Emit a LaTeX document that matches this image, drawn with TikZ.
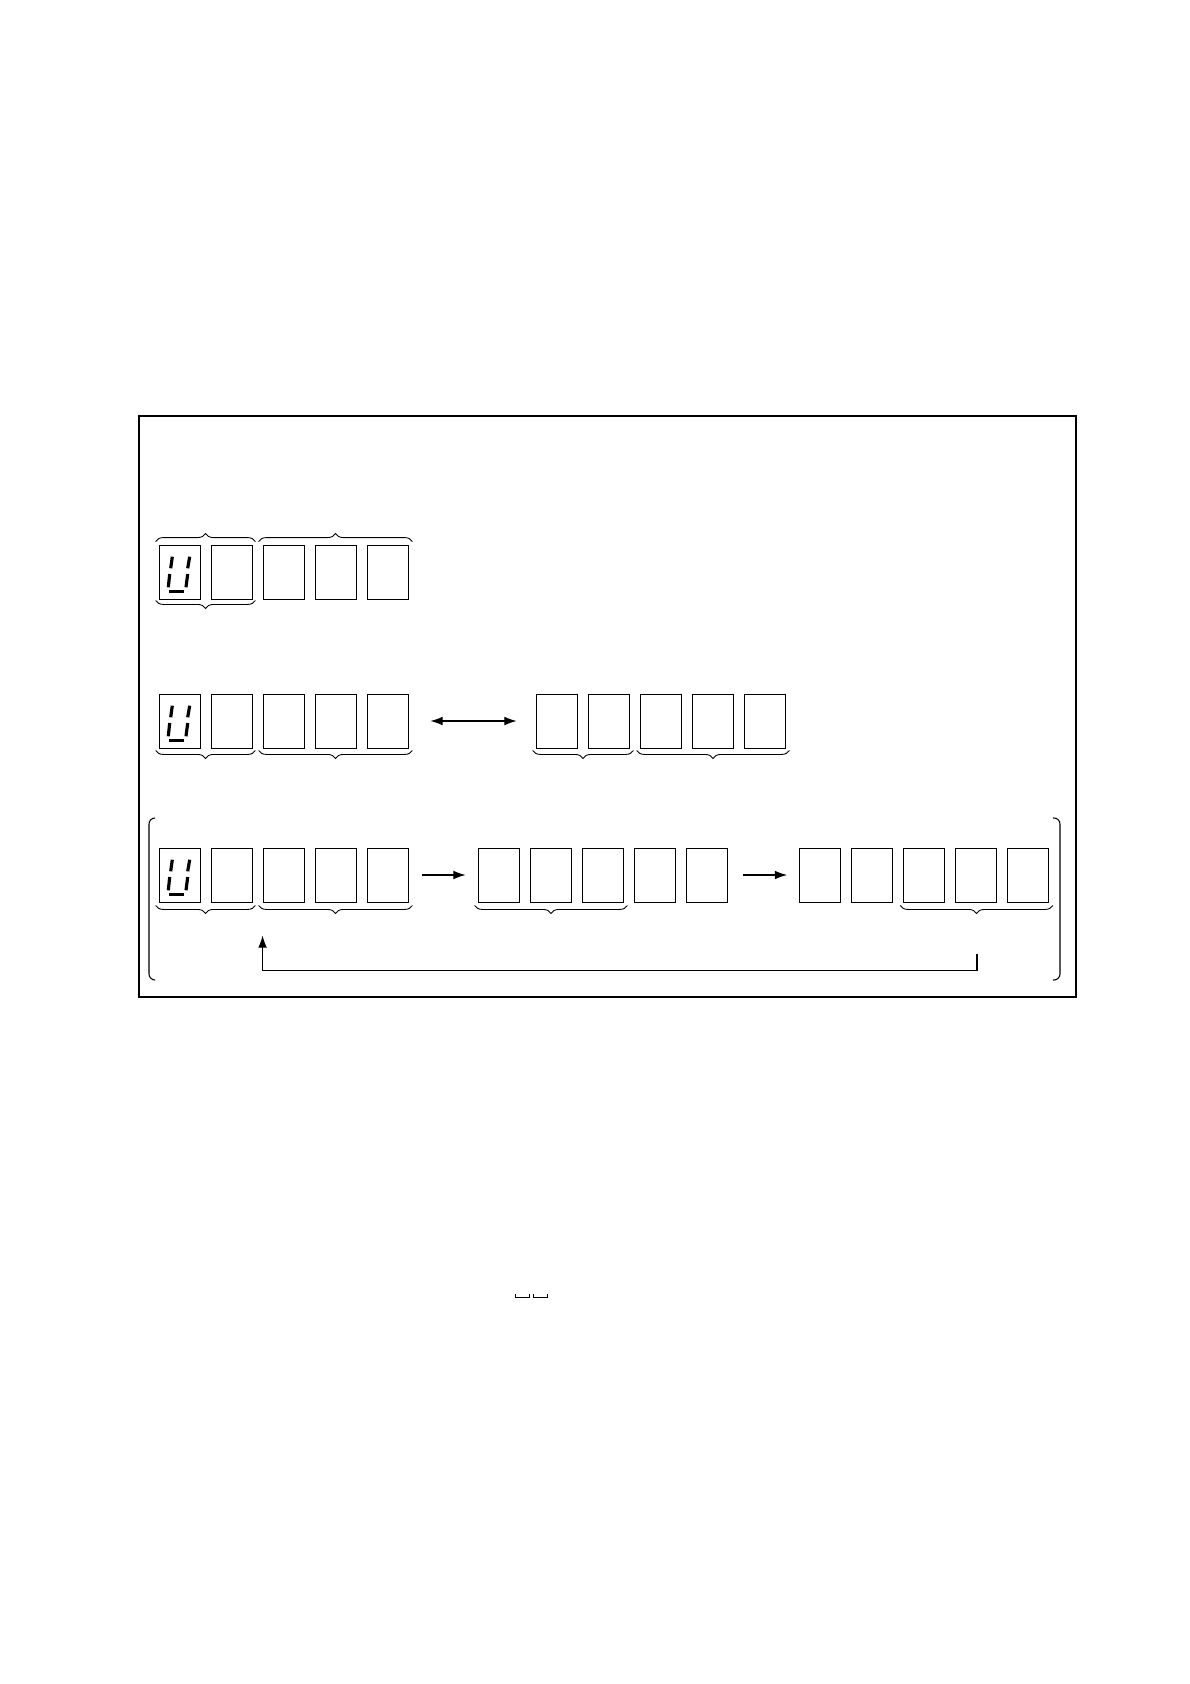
\documentclass[tikz,border=0pt]{standalone}
\usepackage{tikz}
\usetikzlibrary{calc}
\usetikzlibrary{arrows.meta,positioning,decorations.pathreplacing}

\tikzset{
	digit/.style={draw,line width=0.5pt,inner sep=0pt,minimum width=0.82cm,minimum height=1.08cm},
	brc/.style={decorate,decoration={brace,amplitude=0.16cm},line width=0.5pt},
	brcm/.style={decorate,decoration={brace,mirror,amplitude=0.16cm},line width=0.5pt},
	arr/.style={line width=0.6pt,-{Latex[length=7pt,width=5pt]}},
	darr/.style={line width=0.6pt,{Latex[length=7pt,width=5pt]}-{Latex[length=7pt,width=5pt]}},
	seg/.style={line width=1.8pt}
}

% the letter U of a seven segment display, drawn in box #1
\newcommand{\segU}[1]{
	\begin{scope}[shift={(#1.center)}]
		\draw[seg] (-7.2,-15.3)--(-8.8,-3.7);
		\draw[seg] (-9.8,2)--(-11.2,15.3);
		\draw[seg] (-10.5,19.7)--(4.8,19.7);
		\draw[seg] (10.2,-15.3)--(8.2,-3.7);
		\draw[seg] (8.2,2)--(6.5,15.3);
	\end{scope}
}

\begin{document}
\begin{tikzpicture}[x=0.02cm,y=-0.02cm]
	\useasboundingbox (0,0) rectangle (1190,1684);
	\draw[line width=0.8pt] (139,416) rectangle (1076,997);

	% first row
	\node[digit] (r1a) at (179.5,572) {};
	\node[digit] (r1b) at (231.5,572) {};
	\node[digit] (r1c) at (283.5,572) {};
	\node[digit] (r1d) at (335.5,572) {};
	\node[digit] (r1e) at (387.5,572) {};
	\segU{r1a}
	\draw[brc] ($(r1a.north west)+(-3,-3)$) -- ($(r1b.north east)+(3,-3)$);
	\draw[brc] ($(r1c.north west)+(-4,-3)$) -- ($(r1e.north east)+(4,-3)$);
	\draw[brcm] ($(r1a.south west)+(-3,1)$) -- ($(r1b.south east)+(3,1)$);

	% second row
	\node[digit] (r2a) at (179.5,721) {};
	\node[digit] (r2b) at (231.5,721) {};
	\node[digit] (r2c) at (283.5,721) {};
	\node[digit] (r2d) at (335.5,721) {};
	\node[digit] (r2e) at (387.5,721) {};
	\node[digit] (r2f) at (556.5,721) {};
	\node[digit] (r2g) at (608.5,721) {};
	\node[digit] (r2h) at (660.5,721) {};
	\node[digit] (r2i) at (712.5,721) {};
	\node[digit] (r2j) at (764.5,721) {};
	\segU{r2a}
	\draw[darr,shorten <=0.44cm,shorten >=0.38cm] (r2e.east) -- (r2f.west);
	\draw[brcm] ($(r2a.south west)+(-3,2)$) -- ($(r2b.south east)+(3,2)$);
	\draw[brcm] ($(r2c.south west)+(-4,2)$) -- ($(r2e.south east)+(4,2)$);
	\draw[brcm] ($(r2f.south west)+(-3,2)$) -- ($(r2g.south east)+(4,2)$);
	\draw[brcm] ($(r2h.south west)+(-3,2)$) -- ($(r2j.south east)+(4,2)$);

	% third row
	\node[digit] (r3a) at (179.5,875) {};
	\node[digit] (r3b) at (231.5,875) {};
	\node[digit] (r3c) at (283.5,875) {};
	\node[digit] (r3d) at (335.5,875) {};
	\node[digit] (r3e) at (387.5,875) {};
	\node[digit] (r3f) at (498.5,875) {};
	\node[digit] (r3g) at (550.5,875) {};
	\node[digit] (r3h) at (602.5,875) {};
	\node[digit] (r3i) at (654.5,875) {};
	\node[digit] (r3j) at (706.5,875) {};
	\node[digit] (r3k) at (820,875) {};
	\node[digit] (r3l) at (872,875) {};
	\node[digit] (r3m) at (924,875) {};
	\node[digit] (r3n) at (976,875) {};
	\node[digit] (r3o) at (1028,875) {};
	\segU{r3a}
	\draw[arr,shorten <=0.28cm,shorten >=0.24cm] (r3e.east) -- (r3f.west);
	\draw[arr,shorten <=0.32cm,shorten >=0.24cm] (r3j.east) -- (r3k.west);
	\draw[brcm] ($(r3a.south west)+(-3,3)$) -- ($(r3b.south east)+(3,3)$);
	\draw[brcm] ($(r3c.south west)+(-4,3)$) -- ($(r3e.south east)+(4,3)$);
	\draw[brcm] ($(r3f.south west)+(-3,3)$) -- ($(r3h.south east)+(4,3)$);
	\draw[brcm] ($(r3m.south west)+(-3,3)$) -- ($(r3o.south east)+(4,3)$);
	\draw[arr] ($(r3n.south)+(1,52)$) -- ($(r3n.south)+(1,68)$) -| ($(r3c.south west)+(0,33)$);
	\draw[line width=0.6pt,rounded corners=0.12cm] (155,818) -- (149,818) -- (149,980) -- (155,980);
	\draw[line width=0.6pt,rounded corners=0.12cm] (1053,818) -- (1060,818) -- (1060,980) -- (1053,980);

	% the two blanks below
	\draw[line width=0.5pt] (515,1294) |- (529,1297) -- (529,1294);
	\draw[line width=0.5pt] (533,1294) |- (547,1297) -- (547,1294);
\end{tikzpicture}
\end{document}
